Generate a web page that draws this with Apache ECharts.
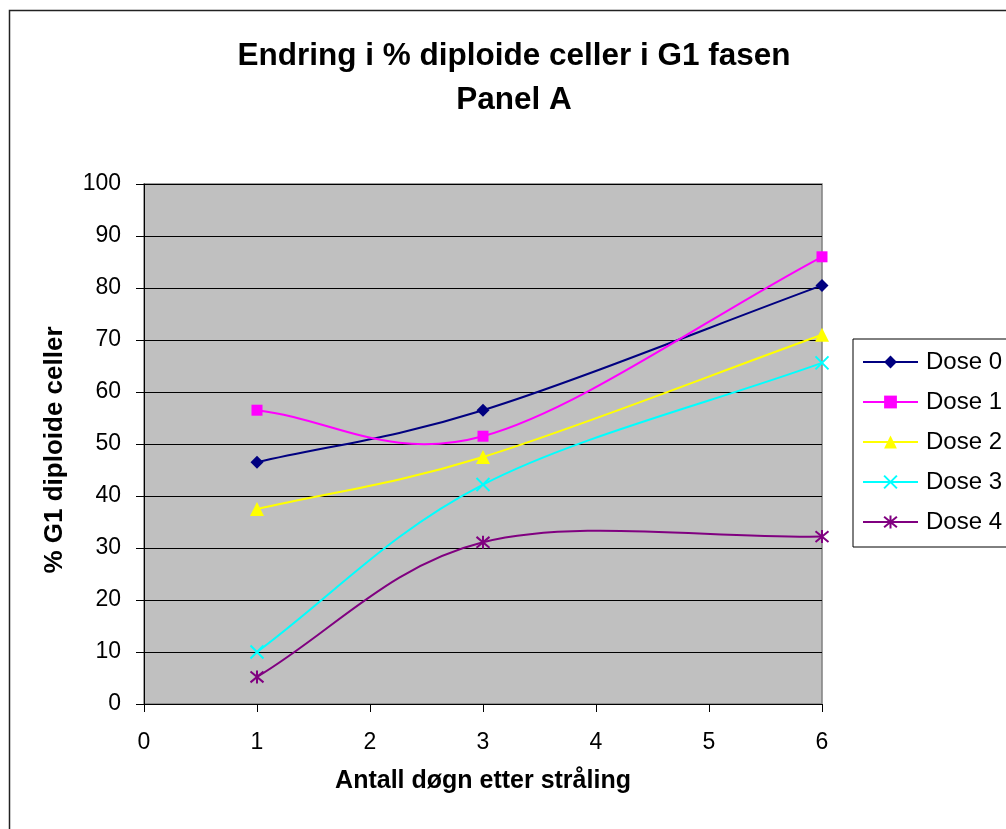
<!DOCTYPE html>
<html>
<head>
<meta charset="utf-8">
<style>
  html, body { margin: 0; padding: 0; background: #ffffff; }
  #chart { width: 1006px; height: 829px; }
</style>
<script src="https://cdn.jsdelivr.net/npm/echarts@6/dist/echarts.min.js"></script>
</head>
<body>
<div id="chart"></div>
<script>
// Days after irradiation (x positions of the measurements)
const days = [1, 3, 6];

// % diploid cells in G1 for each dose
const dose0 = [46.5, 56.5, 80.5];
const dose1 = [56.5, 51.5, 86];
const dose2 = [37.5, 47.5, 71];
const dose3 = [10, 42.2, 65.6];
const dose4 = [5.2, 31.1, 32.2];

const seriesNames = ['Dose 0', 'Dose 1', 'Dose 2', 'Dose 3', 'Dose 4'];
const seriesValues = [dose0, dose1, dose2, dose3, dose4];

const titleText = 'Endring i % diploide celler i G1 fasen\nPanel A';
const xAxisName = 'Antall døgn etter stråling';
const yAxisName = '% G1 diploide celler';

const FONT = '"Liberation Sans", Arial, Helvetica, sans-serif';

// Marker look per series
const seriesStyles = [
  { color: '#000080', symbol: 'diamond', size: 13, stroke: false },
  { color: '#FF00FF', symbol: 'rect', size: 11, stroke: false },
  { color: '#FFFF00', symbol: 'triangle', size: 14, stroke: false },
  { color: '#00FFFF', symbol: 'path://M0,0L10,10M10,0L0,10', size: 13, stroke: true },
  { color: '#800080', symbol: 'path://M0,0L10,10M10,0L0,10M5,-1L5,11', size: 13, stroke: true }
];

// Smoothed curve through the measured points: cubic Bezier segments whose
// interior tangents are (next - prev) / 6 and end tangents (neighbour - end) / 3,
// computed in pixel space from the axis scales.
function curveRenderer(values, color) {
  return function (params, api) {
    const i = params.dataIndex;
    if (i === 0) return null;
    const n = days.length;
    const P = days.map((d, k) => api.coord([d, values[k]]));
    const a = P[i - 1], b = P[i];
    let c1, c2;
    if (i - 1 === 0) {
      c1 = [a[0] + (b[0] - a[0]) / 3, a[1] + (b[1] - a[1]) / 3];
    } else {
      const p = P[i - 2];
      c1 = [a[0] + (b[0] - p[0]) / 6, a[1] + (b[1] - p[1]) / 6];
    }
    if (i === n - 1) {
      c2 = [b[0] - (b[0] - a[0]) / 3, b[1] - (b[1] - a[1]) / 3];
    } else {
      const q = P[i + 1];
      c2 = [b[0] - (q[0] - a[0]) / 6, b[1] - (q[1] - a[1]) / 6];
    }
    return {
      type: 'bezierCurve',
      shape: {
        x1: a[0], y1: a[1], x2: b[0], y2: b[1],
        cpx1: c1[0], cpy1: c1[1], cpx2: c2[0], cpy2: c2[1]
      },
      style: { stroke: color, lineWidth: 2, fill: 'none' },
      silent: true
    };
  };
}

const series = [];
seriesNames.forEach((name, i) => {
  const st = seriesStyles[i];
  const pts = days.map((d, k) => [d, seriesValues[i][k]]);
  series.push({
    name: name + ' kurve',
    type: 'custom',
    coordinateSystem: 'cartesian2d',
    encode: { x: 0, y: 1 },
    data: pts,
    renderItem: curveRenderer(seriesValues[i], st.color),
    z: 2,
    silent: true
  });
  series.push({
    name: name,
    type: 'line',
    data: pts,
    symbol: st.symbol,
    symbolSize: st.size,
    showAllSymbol: true,
    lineStyle: { color: st.color, width: 0 },
    itemStyle: st.stroke
      ? { color: st.color, borderColor: st.color, borderWidth: 2 }
      : { color: st.color, borderWidth: 0 },
    emphasis: { disabled: true },
    z: 3
  });
});

const chart = echarts.init(document.getElementById('chart'));
chart.setOption({
  animation: false,
  backgroundColor: '#ffffff',
  textStyle: { fontFamily: FONT },
  title: {
    text: titleText,
    left: 514,
    top: 34,
    padding: 0,
    textAlign: 'center',
    textStyle: {
      fontFamily: FONT,
      fontSize: 31.5,
      fontWeight: 'bold',
      color: '#000',
      lineHeight: 44
    }
  },
  graphic: [{
    type: 'rect',
    shape: { x: 9.5, y: 10.5, width: 1200, height: 1000 },
    style: { fill: 'none', stroke: '#222', lineWidth: 1.5 },
    silent: true,
    z: 0
  }],
  legend: {
    orient: 'vertical',
    left: 853,
    top: 339,
    padding: [11, 80, 13, 9],
    itemWidth: 55,
    itemHeight: 16,
    itemGap: 16,
    borderColor: '#000',
    borderWidth: 1,
    backgroundColor: '#fff',
    selectedMode: false,
    lineStyle: { width: 2 },
    textStyle: { fontFamily: FONT, fontSize: 24, color: '#000', lineHeight: 20, padding: [0, 0, 0, 3] },
    data: seriesNames
  },
  grid: {
    left: 144,
    right: 184,
    top: 184,
    bottom: 125,
    show: true,
    backgroundColor: '#C0C0C0',
    borderColor: '#808080',
    borderWidth: 1.5
  },
  xAxis: {
    type: 'value',
    min: 0,
    max: 6,
    interval: 1,
    name: xAxisName,
    nameLocation: 'middle',
    nameGap: 65,
    nameTextStyle: { fontFamily: FONT, fontSize: 25, fontWeight: 'bold', color: '#000' },
    axisLine: { show: true, onZero: false, lineStyle: { color: '#000', width: 1 } },
    axisTick: { show: true, inside: false, length: 8, lineStyle: { color: '#000' } },
    axisLabel: { fontFamily: FONT, fontSize: 23, color: '#000', margin: 27 },
    splitLine: { show: false }
  },
  yAxis: {
    type: 'value',
    min: 0,
    max: 100,
    interval: 10,
    name: yAxisName,
    nameLocation: 'middle',
    nameGap: 76,
    nameRotate: 90,
    nameTextStyle: { fontFamily: FONT, fontSize: 26, fontWeight: 'bold', color: '#000', padding: [0, 12, 0, 0] },
    axisLine: { show: true, lineStyle: { color: '#000', width: 1 } },
    axisTick: { show: true, inside: false, length: 8, lineStyle: { color: '#000' } },
    axisLabel: { fontFamily: FONT, fontSize: 23, color: '#000', margin: 23 },
    splitLine: { show: true, lineStyle: { color: '#000', width: 1.2 } }
  },
  series: series
});
</script>
</body>
</html>
